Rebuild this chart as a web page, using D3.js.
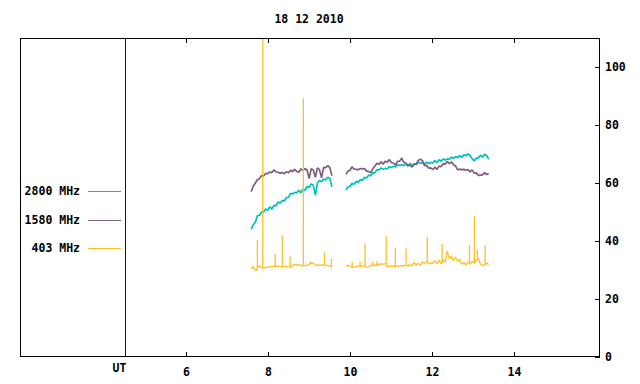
<!DOCTYPE html>
<html>
<head>
<meta charset="utf-8">
<script src="https://cdn.jsdelivr.net/npm/d3@7"></script>
<style>
    body { margin: 0; background: #fff; }
    svg text { font-family: "DejaVu Sans Mono", "Liberation Mono", monospace; font-weight: bold; font-size: 11.5px; fill: #000; }
</style>
</head>
<body>
<div id="chart"></div>
<script>
// data: three radio frequencies, two observing runs on the same day
const title = '18 12 2010';
const seriesNames = ['2800 MHz', '1580 MHz', '403 MHz'];
const seriesColors = ['#00c0c0', '#7f5f80', '#ffc020'];

const xTicks = [6, 8, 10, 12, 14];
const yTicks = [0, 20, 40, 60, 80, 100];
const utMark = 4.5;

// sampling of both runs (hours UT)
const run1Start = 7.59;
const run2Start = 9.90;
const step = 0.0505;

const teal1 = [44.0, 45.6, 46.5, 48.7, 48.9, 50.0, 50.0, 51.0, 50.6, 51.8,
    51.0, 52.3, 52.1, 53.5, 53.0, 54.0, 53.7, 55.0, 55.0, 56.4,
    56.2, 56.8, 56.6, 57.5, 56.6, 57.9, 57.5, 58.8, 58.5, 59.7,
    59.2, 55.8, 60.0, 60.9, 60.4, 61.4, 61.0, 62.0, 61.6, 58.7];
const teal2 = [57.6, 58.6, 58.8, 59.9, 59.6, 60.6, 60.2, 61.2, 60.9, 62.0,
    61.7, 62.7, 62.5, 63.6, 63.5, 64.6, 64.5, 65.2, 64.7, 65.1,
    64.8, 65.7, 65.3, 65.8, 65.5, 66.4, 66.0, 66.3, 66.0, 66.5,
    65.8, 66.8, 66.1, 66.6, 66.3, 67.2, 66.8, 67.1, 66.4, 67.2,
    66.7, 67.1, 66.9, 67.7, 67.0, 68.0, 67.5, 68.3, 67.9, 68.3,
    68.2, 68.9, 68.5, 69.1, 68.7, 69.5, 68.8, 69.7, 69.4, 70.0,
    69.5, 68.4, 67.6, 68.6, 68.6, 69.6, 68.9, 69.9, 69.5, 68.2];

const purple1 = [57.0, 58.9, 60.0, 61.1, 61.5, 62.6, 62.4, 63.3, 63.2, 63.8,
    63.6, 64.5, 63.8, 63.7, 63.4, 63.6, 63.2, 63.9, 63.5, 64.4,
    63.9, 64.7, 64.0, 63.7, 64.9, 64.3, 65.0, 64.5, 61.5, 64.9,
    64.5, 62.0, 65.2, 64.6, 61.8, 65.4, 65.3, 66.0, 65.3, 62.5];
const purple2 = [63.0, 64.1, 64.4, 65.6, 64.8, 64.7, 64.6, 65.0, 64.9, 65.0,
    64.1, 64.0, 63.6, 64.9, 65.8, 66.8, 66.5, 67.3, 66.5, 67.5,
    67.2, 68.1, 67.0, 66.9, 66.2, 67.5, 67.5, 68.6, 67.1, 66.9,
    66.1, 66.1, 65.5, 66.5, 66.5, 67.8, 68.2, 67.7, 66.0, 66.1,
    65.1, 65.2, 64.6, 65.5, 64.7, 65.8, 65.6, 66.6, 66.5, 67.4,
    66.7, 67.3, 66.3, 65.9, 64.5, 64.8, 64.6, 64.7, 64.4, 64.6,
    63.8, 64.5, 63.4, 63.5, 62.6, 62.7, 62.8, 63.6, 62.9, 63.3];

const gold1 = [30.4, 31.2, 30.0, 30.6, 31.4, 30.8, 30.6, 30.8, 31.0, 31.2,
    31.1, 31.3, 31.2, 31.4, 31.2, 31.1, 31.3, 31.2, 31.1, 30.9,
    31.5, 32.0, 31.6, 32.1, 31.5, 31.4, 31.5, 31.6, 32.0, 32.5,
    32.3, 31.8, 31.6, 31.8, 31.7, 31.8, 31.7, 31.6, 31.2, 31.0];
const gold2 = [31.3, 31.6, 31.3, 31.0, 30.9, 31.2, 31.4, 31.2, 31.3, 31.5,
    30.9, 31.0, 31.6, 31.4, 31.8, 31.6, 32.0, 32.1, 32.0, 32.1,
    31.3, 31.3, 31.3, 31.3, 31.4, 31.3, 31.4, 31.5, 31.4, 31.7,
    31.3, 32.0, 31.4, 32.6, 31.6, 32.4, 31.5, 32.8, 32.2, 33.0,
    32.0, 32.5, 32.3, 33.2, 32.1, 33.4, 32.2, 33.6, 32.8, 36.5,
    33.8, 34.8, 33.2, 34.4, 33.0, 33.6, 32.0, 32.6, 31.8, 32.6,
    32.0, 32.9, 32.3, 33.5, 34.0, 32.0, 31.5, 31.8, 32.4, 31.9];

// short bursts on 403 MHz
const spikeTimes = [7.741, 7.873, 8.176, 8.348, 8.540, 8.863, 9.025, 9.378, 9.550,
    10.055, 10.247, 10.368, 10.550, 10.662, 10.884, 11.107, 11.369, 11.885, 12.248,
    12.915, 13.036, 13.107, 13.299];
const spikeValues = [40.3, 130, 35.5, 42, 34.6, 89.2, 32.9, 36, 33.8,
    32.8, 32.8, 39, 32.8, 33, 41.8, 37.8, 37.5, 41.4, 39, 38.6, 48.6, 37.1, 38.6];

// layout
const W = 640;
const H = 384;
const plot = { left: 20, right: 600, top: 38, bottom: 357 };

const x = d3.scaleLinear().domain([1.95, 16.1]).range([plot.left, plot.right]);
const y = d3.scaleLinear().domain([0, 110]).range([plot.bottom, plot.top]);

function toPoints(start, values) {
    return values.map((v, i) => ({ t: start + i * step, v }));
}

// a burst rises and falls within one sample: go up and back down at the same time
function withSpikes(points) {
    const t0 = points[0].t;
    const t1 = points[points.length - 1].t;
    let out = points.slice();
    spikeTimes.forEach((t, i) => {
        if (t < t0 || t > t1) return;
        const prev = points.filter(p => p.t <= t).pop();
        out.push({ t, v: prev.v, o: 0 });
        out.push({ t, v: spikeValues[i], o: 1 });
        out.push({ t, v: prev.v, o: 2 });
    });
    return out.sort((a, b) => (a.t - b.t) || ((a.o || 0) - (b.o || 0)));
}

const series = [
    [toPoints(run1Start, teal1), toPoints(run2Start, teal2)],
    [toPoints(run1Start, purple1), toPoints(run2Start, purple2)],
    [withSpikes(toPoints(run1Start, gold1)), withSpikes(toPoints(run2Start, gold2))],
];
const seriesWidths = [1.7, 1.7, 1.3];

const svg = d3.select('#chart')
    .append('svg')
    .attr('width', W)
    .attr('height', H);

svg.append('defs')
    .append('clipPath')
    .attr('id', 'clip')
    .append('rect')
    .attr('x', plot.left)
    .attr('y', plot.top)
    .attr('width', plot.right - plot.left)
    .attr('height', plot.bottom - plot.top);

// title
svg.append('text')
    .attr('x', 309)
    .attr('y', 19)
    .attr('dy', '0.35em')
    .attr('text-anchor', 'middle')
    .text(title);

// axes (ticks point inward, like gnuplot)
const gx = svg.append('g')
    .attr('transform', `translate(0,${plot.bottom})`)
    .call(d3.axisBottom(x).tickValues(xTicks).tickSizeInner(-5).tickSizeOuter(0).tickPadding(11));
const gxTop = svg.append('g')
    .attr('transform', `translate(0,${plot.top})`)
    .call(d3.axisTop(x).tickValues(xTicks).tickSizeInner(-5).tickSizeOuter(0).tickFormat(''));
const gy = svg.append('g')
    .attr('transform', `translate(${plot.right},0)`)
    .call(d3.axisRight(y).tickValues(yTicks).tickSizeInner(-5).tickSizeOuter(0).tickPadding(5));

[gx, gxTop, gy].forEach((g) => {
    g.select('.domain').remove();
    g.selectAll('line').attr('stroke', '#000').attr('shape-rendering', 'crispEdges');
    g.selectAll('text')
        .style('font-family', '"DejaVu Sans Mono", monospace')
        .style('font-weight', 'bold')
        .style('font-size', '11.5px');
});

// UT marker
svg.append('line')
    .attr('x1', Math.round(x(utMark)) + 0.5)
    .attr('x2', Math.round(x(utMark)) + 0.5)
    .attr('y1', plot.top)
    .attr('y2', plot.bottom)
    .attr('stroke', '#500000')
    .attr('stroke-width', 1);
svg.append('text')
    .attr('x', x(utMark) - 5)
    .attr('y', plot.bottom + 7)
    .attr('dy', '0.71em')
    .attr('text-anchor', 'middle')
    .text('UT');

// data
const line = d3.line()
    .x(d => x(d.t))
    .y(d => y(d.v));

const dataG = svg.append('g').attr('clip-path', 'url(#clip)');
series.forEach((runs, si) => {
    runs.forEach((pts) => {
        dataG.append('path')
            .attr('d', line(pts))
            .attr('fill', 'none')
            .attr('stroke', seriesColors[si])
            .attr('stroke-width', seriesWidths[si])
            .attr('stroke-linejoin', 'bevel');
    });
});

// key
const keyY = [191, 219.5, 248];
seriesNames.forEach((name, i) => {
    svg.append('text')
        .attr('x', 80)
        .attr('y', keyY[i])
        .attr('dy', '0.35em')
        .attr('text-anchor', 'end')
        .text(name);
    svg.append('line')
        .attr('x1', 88)
        .attr('x2', 121)
        .attr('y1', Math.round(keyY[i]) + 0.5)
        .attr('y2', Math.round(keyY[i]) + 0.5)
        .attr('stroke', seriesColors[i]);
});

// frame
svg.append('rect')
    .attr('x', plot.left + 0.5)
    .attr('y', plot.top + 0.5)
    .attr('width', plot.right - plot.left - 1)
    .attr('height', plot.bottom - plot.top - 1)
    .attr('fill', 'none')
    .attr('stroke', '#000');
</script>
</body>
</html>
